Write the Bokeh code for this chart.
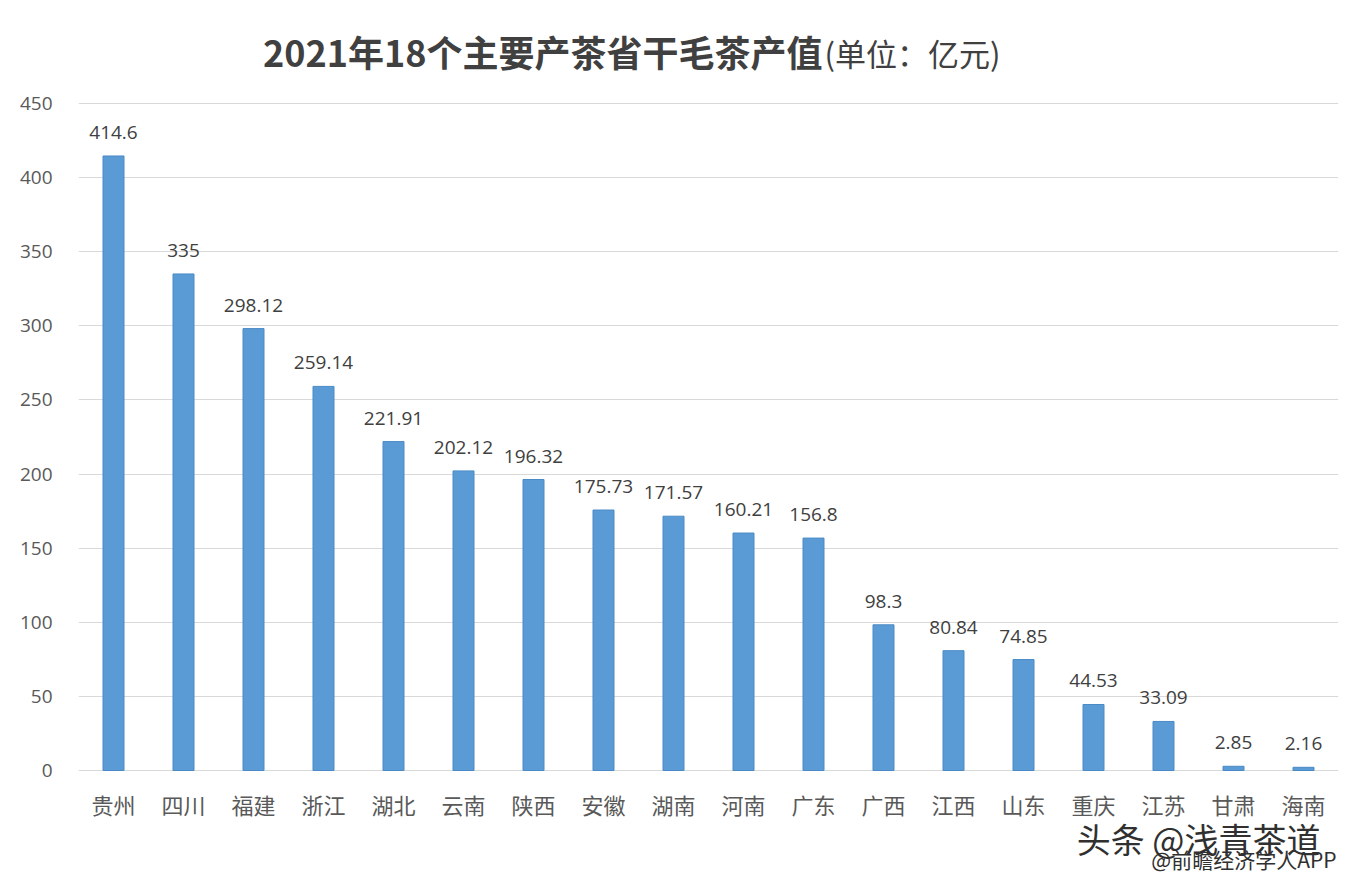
from bokeh.plotting import figure
from bokeh.models import ColumnDataSource, Range1d, FactorRange, FixedTicker, Label, LabelSet
from bokeh.core.properties import value
from bokeh.embed import file_html
from bokeh.resources import INLINE

provinces = ["贵州", "四川", "福建", "浙江", "湖北", "云南", "陕西", "安徽", "湖南",
             "河南", "广东", "广西", "江西", "山东", "重庆", "江苏", "甘肃", "海南"]
values = [414.6, 335, 298.12, 259.14, 221.91, 202.12, 196.32, 175.73, 171.57,
          160.21, 156.8, 98.3, 80.84, 74.85, 44.53, 33.09, 2.85, 2.16]
value_labels = ["414.6", "335", "298.12", "259.14", "221.91", "202.12", "196.32", "175.73", "171.57",
                "160.21", "156.8", "98.3", "80.84", "74.85", "44.53", "33.09", "2.85", "2.16"]
y_ticks = [0, 50, 100, 150, 200, 250, 300, 350, 400, 450]
title_main = "2021年18个主要产茶省干毛茶产值"
title_unit = "(单位：亿元)"
watermark_1 = "头条 @浅青茶道"
watermark_2 = "@前瞻经济学人APP"

FONT = "Noto Sans CJK SC"
NUMFONT = "Open Sans"

# layout (pixels): canvas size, plot-area top (450) and zero line positions
W, H = 1350, 874
TOP_PX, ZERO_PX = 103, 770
YMAX = 450
ppu = (ZERO_PX - TOP_PX) / YMAX
y_lo = -(H - ZERO_PX) / ppu
y_hi = YMAX + TOP_PX / ppu

src = ColumnDataSource(data=dict(x=provinces, top=values, lab=value_labels,
                                 zero=[0] * len(provinces)))

p = figure(width=W, height=H, output_backend="svg", toolbar_location=None,
           x_range=FactorRange(factors=provinces, range_padding=0),
           y_range=Range1d(y_lo, y_hi),
           min_border_left=78, min_border_right=12, min_border_top=0, min_border_bottom=0)
p.outline_line_color = None
p.background_fill_color = "white"
p.border_fill_color = "white"

p.vbar(x="x", top="top", bottom=0, width=0.3, source=src, fill_color="#5b9bd5",
       line_color="#4a8ac6", line_width=1)

p.add_layout(LabelSet(x="x", y="top", text="lab", source=src, text_align="center",
                      text_baseline="bottom", y_offset=17, text_font_size="19px",
                      text_color="#404040", text_font=value(NUMFONT)))

# category labels below the zero line
p.add_layout(LabelSet(x="x", y="zero", text="x", source=src, text_align="center",
                      text_baseline="middle", y_offset=-33, text_font_size="22px",
                      text_color="#595959", text_font=value(FONT)))

p.xaxis.visible = False

p.yaxis.ticker = FixedTicker(ticks=y_ticks)
p.yaxis.axis_line_color = None
p.yaxis.major_tick_line_color = None
p.yaxis.minor_tick_line_color = None
p.yaxis.major_label_standoff = 20
p.yaxis.major_label_text_font_size = "19px"
p.yaxis.major_label_text_color = "#595959"
p.yaxis.major_label_text_font = NUMFONT

p.xgrid.grid_line_color = None
p.ygrid.grid_line_color = "#d9d9d9"
p.ygrid.grid_line_width = 1

# screen units are measured from the plot area's bottom-left corner
p.add_layout(Label(x=744, y=H - 50, x_units="screen", y_units="screen", text=title_main,
                   text_align="right", text_baseline="middle", text_font_size="36px",
                   text_font_style="bold", text_color="#404040", text_font=FONT))
p.add_layout(Label(x=746, y=H - 52, x_units="screen", y_units="screen", text=title_unit,
                   text_align="left", text_baseline="middle", text_font_size="31px",
                   text_color="#404040", text_font=FONT))

p.add_layout(Label(x=1242, y=H - 838, x_units="screen", y_units="screen", text=watermark_1,
                   text_align="right", text_baseline="middle", text_font_size="34px",
                   text_color="#303030", text_font=FONT))
p.add_layout(Label(x=1258, y=H - 858, x_units="screen", y_units="screen", text=watermark_2,
                   text_align="right", text_baseline="middle", text_font_size="21px",
                   text_color="#303030", text_font=FONT))

open("out.html", "w").write(file_html(p, INLINE))
